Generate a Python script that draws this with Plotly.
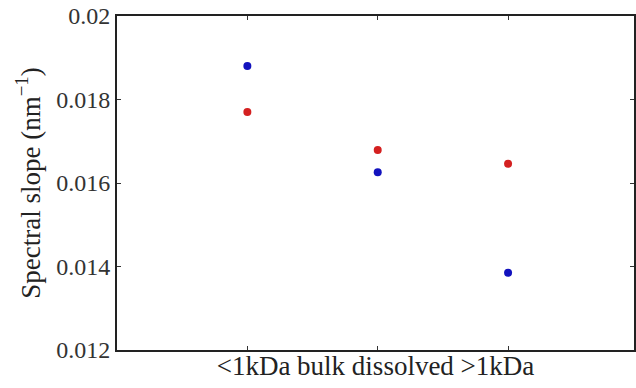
import plotly.graph_objects as go

categories = [1, 2, 3]
blue_vals = [0.01880, 0.01626, 0.01385]
red_vals = [0.01770, 0.01679, 0.01646]
y_ticks = [0.012, 0.014, 0.016, 0.018, 0.02]
y_ticklabels = ["0.012", "0.014", "0.016", "0.018", "0.02"]

fig = go.Figure()
fig.add_trace(go.Scatter(x=categories, y=blue_vals, mode="markers",
                         marker=dict(color="#1212be", size=8), showlegend=False))
fig.add_trace(go.Scatter(x=categories, y=red_vals, mode="markers",
                         marker=dict(color="#d42020", size=8), showlegend=False))

fam = "Liberation Serif"
fig.update_layout(
    width=636, height=388,
    margin=dict(l=117, r=2, t=16, b=38, autoexpand=False),
    paper_bgcolor="white", plot_bgcolor="white",
    font=dict(family=fam, size=24, color="#222"),
    xaxis=dict(range=[0.0, 3.966], tickvals=categories, ticktext=["", "", ""],
               ticks="inside", ticklen=4, tickcolor="#333", showgrid=False, zeroline=False,
               showline=True, linecolor="#222", linewidth=2, mirror="ticks", automargin=False,
               title=dict(text="<1kDa bulk dissolved >1kDa", standoff=0,
                          font=dict(family=fam, size=27, color="#222"))),
    yaxis=dict(range=[0.012, 0.02], tickvals=y_ticks, ticktext=y_ticklabels,
               ticks="inside", ticklen=4, tickcolor="#333", showgrid=False, zeroline=False,
               showline=True, linecolor="#222", linewidth=2, mirror="ticks", automargin=False,
               tickfont=dict(family=fam, size=24, color="#333"),
               title=dict(text="Spectral slope (nm<sup>−1</sup>)", standoff=8,
                          font=dict(family=fam, size=27, color="#222"))),
)
fig.write_html("out.html", config={"displayModeBar": False},
               post_script="document.body.style.margin='0';document.body.style.padding='0';")
